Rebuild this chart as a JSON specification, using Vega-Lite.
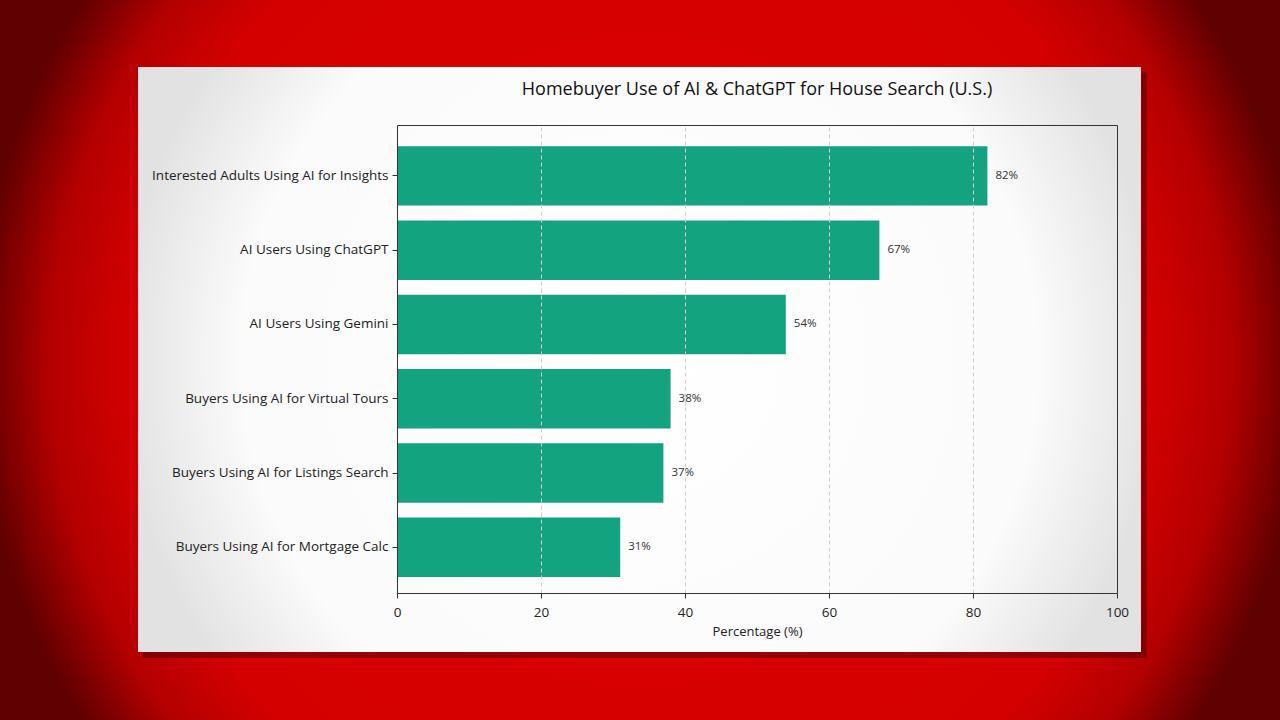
{
  "$schema": "https://vega.github.io/schema/vega-lite/v6.json",
  "width": 720,
  "height": 468,
  "autosize": "none",
  "padding": {"left": 397, "top": 125, "right": 163, "bottom": 127},
  "background": "#b00000",
  "title": {
    "text": "Homebuyer Use of AI & ChatGPT for House Search (U.S.)",
    "font": "Open Sans",
    "fontSize": 18,
    "fontWeight": "normal",
    "color": "#111111",
    "anchor": "middle",
    "frame": "group",
    "offset": -99
  },
  "config": {
    "font": "Open Sans",
    "view": {"stroke": null},
    "axis": {
      "labelFont": "Open Sans",
      "titleFont": "Open Sans",
      "labelColor": "#222222",
      "titleColor": "#222222",
      "labelFontSize": 13.5,
      "titleFontSize": 13,
      "titleFontWeight": "normal",
      "domainColor": "#333333",
      "tickColor": "#333333",
      "tickSize": 5
    }
  },
  "data": {
    "values": [
      {"category": "Interested Adults Using AI for Insights", "value": 82, "label": "82%"},
      {"category": "AI Users Using ChatGPT", "value": 67, "label": "67%"},
      {"category": "AI Users Using Gemini", "value": 54, "label": "54%"},
      {"category": "Buyers Using AI for Virtual Tours", "value": 38, "label": "38%"},
      {"category": "Buyers Using AI for Listings Search", "value": 37, "label": "37%"},
      {"category": "Buyers Using AI for Mortgage Calc", "value": 31, "label": "31%"}
    ]
  },
  "layer": [
    {
      "data": {"values": [{}]},
      "mark": {
        "type": "rect",
        "fill": {
          "gradient": "radial",
          "x1": 0.5, "y1": 0.5, "r1": 0,
          "x2": 0.5, "y2": 0.5, "r2": 0.72,
          "stops": [
            {"offset": 0, "color": "#de0000"},
            {"offset": 0.55, "color": "#d40000"},
            {"offset": 0.64, "color": "#b40000"},
            {"offset": 0.72, "color": "#600000"}
          ]
        }
      },
      "encoding": {
        "x": {"datum": -55.14, "type": "quantitative", "scale": {"domain": [0, 100], "nice": false}, "axis": null},
        "x2": {"datum": 122.64},
        "y": {"datum": -0.2714, "type": "quantitative", "scale": {"domain": [0, 1], "nice": false, "zero": false}, "axis": null},
        "y2": {"datum": 1.2671}
      }
    },
    {
      "data": {"values": [{}]},
      "mark": {"type": "rect", "fill": "#200000", "opacity": 0.35},
      "encoding": {
        "x": {"datum": -35.3, "type": "quantitative", "scale": {"domain": [0, 100], "nice": false}, "axis": null},
        "x2": {"datum": 104.1},
        "y": {"datum": -0.139, "type": "quantitative", "scale": {"domain": [0, 1], "nice": false, "zero": false}, "axis": null},
        "y2": {"datum": 1.112}
      }
    },
    {
      "data": {"values": [{}]},
      "mark": {
        "type": "rect",
        "fill": {
          "gradient": "radial",
          "x1": 0.5, "y1": 0.5, "r1": 0,
          "x2": 0.5, "y2": 0.5, "r2": 0.72,
          "stops": [
            {"offset": 0, "color": "#ffffff"},
            {"offset": 0.55, "color": "#fbfbfb"},
            {"offset": 0.72, "color": "#e2e2e2"}
          ]
        }
      },
      "encoding": {
        "x": {
          "datum": -35.97, "type": "quantitative",
          "scale": {"domain": [0, 100], "nice": false},
          "axis": {"orient": "top", "labels": false, "ticks": false, "grid": false, "domain": true, "title": null, "zindex": 1}
        },
        "x2": {"datum": 103.33},
        "y": {
          "datum": -0.126, "type": "quantitative",
          "scale": {"domain": [0, 1], "nice": false, "zero": false},
          "axis": {"orient": "right", "labels": false, "ticks": false, "grid": false, "domain": true, "title": null, "zindex": 1}
        },
        "y2": {"datum": 1.124}
      }
    },
    {
      "mark": {"type": "bar", "color": "#13a37f"},
      "encoding": {
        "y": {
          "field": "category", "type": "nominal", "sort": null,
          "scale": {"type": "band", "paddingInner": 0.2, "paddingOuter": 0.25, "align": 0.57},
          "axis": {"title": null, "labelPadding": 4, "grid": false, "labelLimit": 400, "zindex": 1}
        },
        "x": {
          "field": "value", "type": "quantitative",
          "scale": {"domain": [0, 100], "nice": false},
          "axis": {
            "orient": "bottom",
            "values": [0, 20, 40, 60, 80, 100],
            "title": "Percentage (%)",
            "titlePadding": 7,
            "labelPadding": 7,
            "labelFlush": false,
            "grid": true,
            "gridColor": "#cfcfcf",
            "gridDash": [4, 3],
            "gridWidth": 1,
            "zindex": 1
          }
        }
      }
    },
    {
      "mark": {"type": "text", "align": "left", "baseline": "middle", "dx": 8, "fontSize": 11.5, "color": "#333333", "font": "Open Sans"},
      "encoding": {
        "y": {
          "field": "category", "type": "nominal", "sort": null,
          "scale": {"type": "band", "paddingInner": 0.2, "paddingOuter": 0.25, "align": 0.57},
          "axis": null
        },
        "x": {"field": "value", "type": "quantitative", "scale": {"domain": [0, 100], "nice": false}, "axis": null},
        "text": {"field": "label"}
      }
    }
  ],
  "resolve": {"scale": {"y": "independent"}, "axis": {"x": "independent", "y": "independent"}}
}
